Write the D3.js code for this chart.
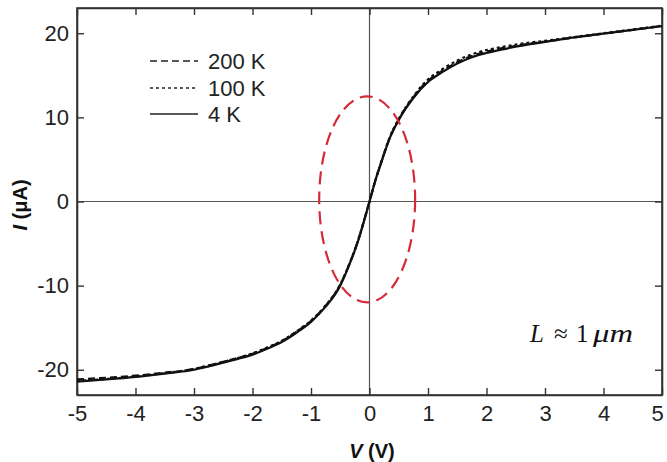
<!DOCTYPE html>
<html><head><meta charset="utf-8">
<script src="https://cdn.jsdelivr.net/npm/d3@7"></script>
<style>body{margin:0;background:#fff}svg{display:block}</style>
</head><body><svg id="c" width="667" height="462"></svg>
<script>
const voltages = [-5,-4.5,-4,-3.5,-3,-2.75,-2.5,-2.25,-2,-1.75,-1.5,-1.25,-1,-0.75,-0.5,-0.35,-0.2,-0.1,0,0.1,0.2,0.35,0.5,0.75,1,1.25,1.5,1.75,2,2.25,2.5,2.75,3,3.5,4,4.5,5];
const current4K   = [-21.4,-21.15,-20.85,-20.45,-20.0,-19.6,-19.15,-18.7,-18.2,-17.5,-16.7,-15.6,-14.3,-12.5,-10.0,-7.6,-4.8,-2.5,0,2.5,4.6,7.6,9.7,12.3,14.2,15.4,16.4,17.15,17.65,18.05,18.4,18.7,18.97,19.5,19.95,20.4,20.85];
const current100K = [-21.3,-21.1,-20.8,-20.4,-19.9,-19.5,-19.05,-18.6,-18.05,-17.35,-16.55,-15.45,-14.15,-12.35,-9.85,-7.5,-4.7,-2.4,0,2.5,4.7,7.7,9.8,12.5,14.5,15.75,16.75,17.5,18.0,18.35,18.65,18.9,19.1,19.55,20.0,20.45,20.9];
const current200K = [-21.15,-20.95,-20.7,-20.35,-19.9,-19.5,-19.05,-18.6,-18.1,-17.4,-16.6,-15.5,-14.2,-12.4,-9.9,-7.55,-4.75,-2.45,0,2.5,4.65,7.65,9.75,12.4,14.35,15.55,16.55,17.3,17.8,18.2,18.5,18.78,19.0,19.5,19.95,20.4,20.85];
const seriesNames = ["200 K","100 K","4 K"];
const xTicks = [-5,-4,-3,-2,-1,0,1,2,3,4,5];
const yTicks = [-20,-10,0,10,20];
const ellipseSpec = {cv:-0.04, ci:0.25, rv:0.82, ri:12.25};

const svg = d3.select("#c");
const x = d3.scaleLinear().domain([-5,5]).range([77,662]);
const y = d3.scaleLinear().domain([-23,23]).range([395,8]);
const font = "'Liberation Sans', Arial, sans-serif";
const axisColor = "#333";

// crosshair
svg.append("line").attr("x1",x(0)).attr("x2",x(0)).attr("y1",y(23)).attr("y2",y(-23)).attr("stroke","#555").attr("stroke-width",1.2);
svg.append("line").attr("x1",x(-5)).attr("x2",x(5)).attr("y1",y(0)).attr("y2",y(0)).attr("stroke","#555").attr("stroke-width",1.2);

// axes
const tl = 7;
const gBottom = svg.append("g").attr("transform",`translate(0,${y(-23)})`).call(d3.axisBottom(x).tickValues(xTicks).tickSizeInner(-tl).tickSizeOuter(0).tickPadding(10).tickFormat(d=>String(d)));
const gTop = svg.append("g").attr("transform",`translate(0,${y(23)})`).call(d3.axisTop(x).tickValues(xTicks).tickSizeInner(-tl).tickSizeOuter(0).tickFormat(""));
const gLeft = svg.append("g").attr("transform",`translate(${x(-5)},0)`).call(d3.axisLeft(y).tickValues(yTicks).tickSizeInner(-tl).tickSizeOuter(0).tickPadding(8).tickFormat(d=>String(d)));
const gRight = svg.append("g").attr("transform",`translate(${x(5)},0)`).call(d3.axisRight(y).tickValues(yTicks).tickSizeInner(-tl).tickSizeOuter(0).tickFormat(""));
[gBottom,gTop,gLeft,gRight].forEach(g=>{
  g.select(".domain").attr("stroke",axisColor).attr("stroke-width",1.6);
  g.selectAll(".tick line").attr("stroke",axisColor).attr("stroke-width",1.4);
  g.selectAll("text").attr("font-family",font).attr("font-size",22).attr("fill","#222");
});
gBottom.selectAll(".tick").filter(d=>d===5).select("text").attr("dx",-5);

svg.append("rect").attr("x",x(-5)).attr("y",y(23)).attr("width",x(5)-x(-5)).attr("height",y(-23)-y(23)).attr("fill","none").attr("stroke",axisColor).attr("stroke-width",1.6);

// curves
const line = d3.line().x((d,i)=>x(voltages[i])).y(d=>y(d)).curve(d3.curveMonotoneX);
const styles = [
  {data:current200K, dash:"7,4"},
  {data:current100K, dash:"3,3"},
  {data:current4K, dash:null}
];
styles.forEach(s=>{
  svg.append("path").attr("d",line(s.data)).attr("fill","none").attr("stroke","#111").attr("stroke-width",2.2)
    .attr("stroke-dasharray",s.dash);
});

// red dashed ellipse
svg.append("ellipse").attr("cx",x(ellipseSpec.cv)).attr("cy",y(ellipseSpec.ci))
  .attr("rx",x(ellipseSpec.rv)-x(0)).attr("ry",y(0)-y(ellipseSpec.ri))
  .attr("fill","none").attr("stroke","#d42a3a").attr("stroke-width",2.2).attr("stroke-dasharray","13,7");

// legend
const legY = [61,88,114];
seriesNames.forEach((n,i)=>{
  svg.append("line").attr("x1",150).attr("x2",198).attr("y1",legY[i]).attr("y2",legY[i])
    .attr("stroke","#222").attr("stroke-width",1.5).attr("stroke-dasharray",styles[i].dash);
  svg.append("text").attr("x",208).attr("y",legY[i]+8).attr("font-family",font).attr("font-size",22).attr("fill","#222").text(n);
});

// axis titles
const xt = svg.append("text").attr("x",372).attr("y",458).attr("text-anchor","middle").attr("font-family",font).attr("font-size",20).attr("font-weight","bold").attr("fill","#111");
xt.append("tspan").attr("font-style","italic").text("V");
xt.append("tspan").text(" (V)");
const yt = svg.append("text").attr("transform","translate(27,205) rotate(-90)").attr("text-anchor","middle").attr("font-family",font).attr("font-size",20).attr("font-weight","bold").attr("fill","#111");
yt.append("tspan").attr("font-style","italic").text("I");
yt.append("tspan").text(" (μA)");

// annotation
const serif = "'Liberation Serif', 'Times New Roman', serif";
const ann = svg.append("g").attr("font-family",serif).attr("font-size",25).attr("fill","#111");
ann.append("text").attr("x",530).attr("y",342).attr("font-style","italic").text("L");
ann.append("text").attr("x",554).attr("y",342).text("≈");
ann.append("text").attr("x",576).attr("y",342).text("1");
ann.append("text").attr("x",593).attr("y",342).attr("font-style","italic").attr("textLength",40).attr("lengthAdjust","spacingAndGlyphs").text("μm");
</script></body></html>
